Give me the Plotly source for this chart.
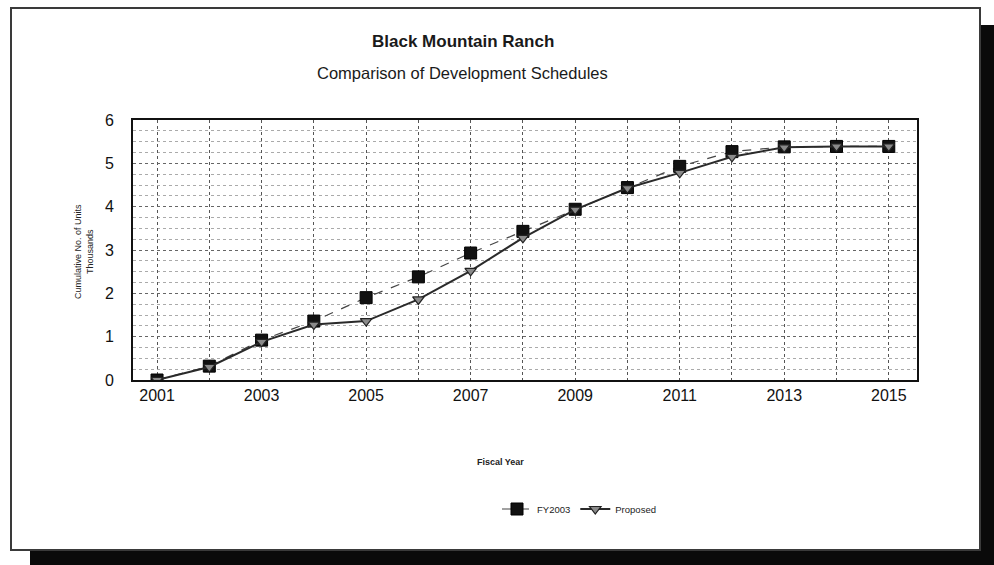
import plotly.graph_objects as go

years = list(range(2001, 2016))
fy2003 = [0.0, 0.32, 0.92, 1.36, 1.9, 2.38, 2.93, 3.43, 3.94, 4.44, 4.93, 5.27, 5.38, 5.39, 5.39]
proposed = [0.0, 0.30, 0.88, 1.28, 1.36, 1.86, 2.52, 3.28, 3.93, 4.43, 4.78, 5.15, 5.37, 5.39, 5.39]
x_ticks = [2001, 2003, 2005, 2007, 2009, 2011, 2013, 2015]
y_ticks = [0, 1, 2, 3, 4, 5, 6]

W, H = 994, 565
L, R, T, B = 133, 917, 120, 380
PW, PH = R - L, B - T

def px(x):
    return (x - L) / PW

def py(y):
    return (B - y) / PH

FONT = "Liberation Sans, Arial, sans-serif"

fig = go.Figure()
fig.add_trace(go.Scatter(
    x=years, y=fy2003, name="FY2003", mode="lines+markers",
    line=dict(color="#444444", width=1.2, dash="dash"),
    marker=dict(symbol="square", size=12, color="#111111",
                line=dict(color="#000000", width=1)),
))
fig.add_trace(go.Scatter(
    x=years, y=proposed, name="Proposed", mode="lines+markers",
    line=dict(color="#2a2a2a", width=2),
    marker=dict(symbol="triangle-down", size=10, color="#8a8a8a",
                line=dict(color="#222222", width=1.2)),
))

shapes = [
    # black drop shadow
    dict(type="rect", xref="paper", yref="paper", layer="below",
         x0=px(30), x1=px(994), y0=py(565), y1=py(25),
         fillcolor="#0a0a0a", line=dict(width=0)),
    # white page box
    dict(type="rect", xref="paper", yref="paper", layer="below",
         x0=px(11), x1=px(980), y0=py(550), y1=py(8),
         fillcolor="white", line=dict(color="#3a3a3a", width=2)),
]

annotations = [
    dict(text="<b>Black Mountain Ranch</b>", x=px(463), y=py(42), xref="paper", yref="paper",
         showarrow=False, xanchor="center", yanchor="middle",
         font=dict(family=FONT, size=17, color="#1a1a1a")),
    dict(text="Comparison of Development Schedules", x=px(462), y=py(73), xref="paper", yref="paper",
         showarrow=False, xanchor="center", yanchor="middle",
         font=dict(family=FONT, size=16.5, color="#1a1a1a")),
    dict(text="Cumulative No. of Units<br>Thousands", x=px(84), y=py(252), xref="paper", yref="paper",
         showarrow=False, xanchor="center", yanchor="middle", textangle=-90,
         font=dict(family=FONT, size=9, color="#222222")),
    dict(text="<b>Fiscal Year</b>", x=px(500), y=py(462), xref="paper", yref="paper",
         showarrow=False, xanchor="center", yanchor="middle",
         font=dict(family=FONT, size=9, color="#222222")),
]

fig.update_layout(
    width=W, height=H,
    margin=dict(l=L, r=W - R, t=T, b=H - B, pad=0),
    paper_bgcolor="white", plot_bgcolor="white",
    font=dict(family=FONT, color="#111111"),
    shapes=shapes, annotations=annotations,
    showlegend=True,
    legend=dict(orientation="h", x=px(497), y=py(509), xanchor="left", yanchor="middle",
                font=dict(family=FONT, size=9.5, color="#222222"),
                bgcolor="rgba(0,0,0,0)", itemwidth=30),
)
fig.update_xaxes(
    range=[2000.54, 2015.54], tickvals=x_ticks, ticktext=[str(v) for v in x_ticks],
    tickfont=dict(family=FONT, size=16, color="#111111"),
    showgrid=True, gridcolor="#555555", griddash="dot", gridwidth=1.3,
    minor=dict(dtick=1, tick0=2001, showgrid=True, gridcolor="#555555", griddash="dot", gridwidth=1.3),
    showline=True, linecolor="#111111", linewidth=2, mirror=True,
    ticks="", zeroline=False,
)
fig.update_yaxes(
    range=[0, 6], tickvals=y_ticks,
    tickfont=dict(family=FONT, size=16, color="#111111"),
    showgrid=True, gridcolor="#666666", griddash="dot", gridwidth=1,
    minor=dict(dtick=0.25, showgrid=True, gridcolor="#aaaaaa", griddash="dot", gridwidth=1),
    showline=True, linecolor="#111111", linewidth=2, mirror=True,
    ticks="", ticklabelstandoff=14, zeroline=False,
)

fig.write_html("out.html")
